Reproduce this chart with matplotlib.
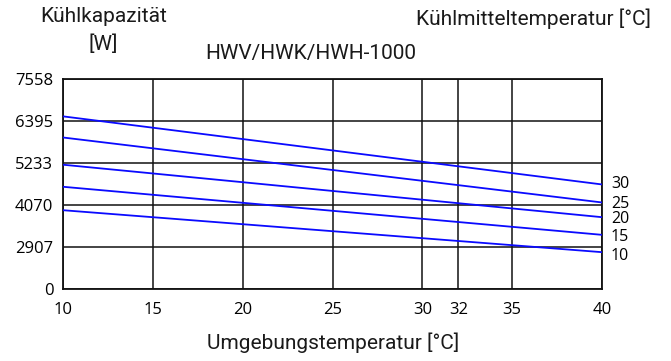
import numpy as np
import matplotlib
matplotlib.use('Agg')
import matplotlib.pyplot as plt

plt.rcParams.update({
    'font.family': ['Open Sans', 'DejaVu Sans'],
    'font.size': 12,
})

# ambient temperature range
t_amb = [10, 40]
x_ticks = [10, 15, 20, 25, 30, 32, 35, 40]

# cooling capacity tick values (drawn equally spaced)
y_ticks = [0, 2907, 4070, 5233, 6395, 7558]

# coolant temperature -> capacity at 10 and 40 degC ambient
coolant = ['30', '25', '20', '15', '10']
capacity = [
    [6525, 4643],
    [5941, 4145],
    [5189, 3738],
    [4579, 3250],
    [3931, 2566],
]
label_nudge = [0, -1.2, -1.0, -1.8, -2.4]  # points, keeps the end labels apart

idx = np.arange(len(y_ticks))


def fwd(v):
    return np.interp(v, y_ticks, idx)


def inv(v):
    return np.interp(v, idx, y_ticks)


fig = plt.figure(figsize=(6.71, 3.61), dpi=100)
ax = fig.add_axes([63 / 671, 1 - 289.3 / 361, (602 - 63) / 671, (289.3 - 79) / 361])
ax.set_yscale('function', functions=(fwd, inv))

for vals, lab, dy in zip(capacity, coolant, label_nudge):
    ax.plot(t_amb, vals, color='#0a0aff', lw=1.3, zorder=3, solid_capstyle='butt')
    ax.annotate(lab, xy=(t_amb[-1], vals[-1]), xytext=(6.5, dy), textcoords='offset points',
                ha='left', va='center', fontsize=11.5, annotation_clip=False)

ax.set_xlim(10, 40)
ax.set_ylim(0, 7558)
ax.set_xticks(x_ticks)
ax.set_yticks(y_ticks)
ax.set_yticklabels([str(v) for v in y_ticks])
ax.grid(True, color='#111111', lw=1.1)
ax.tick_params(length=0)
ax.tick_params(axis='x', pad=9)
ax.tick_params(axis='y', pad=7)
for s in ax.spines.values():
    s.set_color('#111111')
    s.set_linewidth(1.3)

title_font = dict(family=['Roboto', 'DejaVu Sans'], fontweight='normal', fontsize=15,
                  ha='center', va='center', color='#1a1a1a')


def px(x, y):
    return x / 671, 1 - y / 361


fig.text(*px(104, 17), 'Kühlkapazität', **title_font)
fig.text(*px(103, 44), '[W]', **title_font)
fig.text(*px(311, 53), 'HWV/HWK/HWH-1000', **title_font)
fig.text(*px(534, 19), 'Kühlmitteltemperatur [°C]', **title_font)
fig.text(*px(333, 343), 'Umgebungstemperatur [°C]', **title_font)

fig.savefig('out.png', dpi=100)
